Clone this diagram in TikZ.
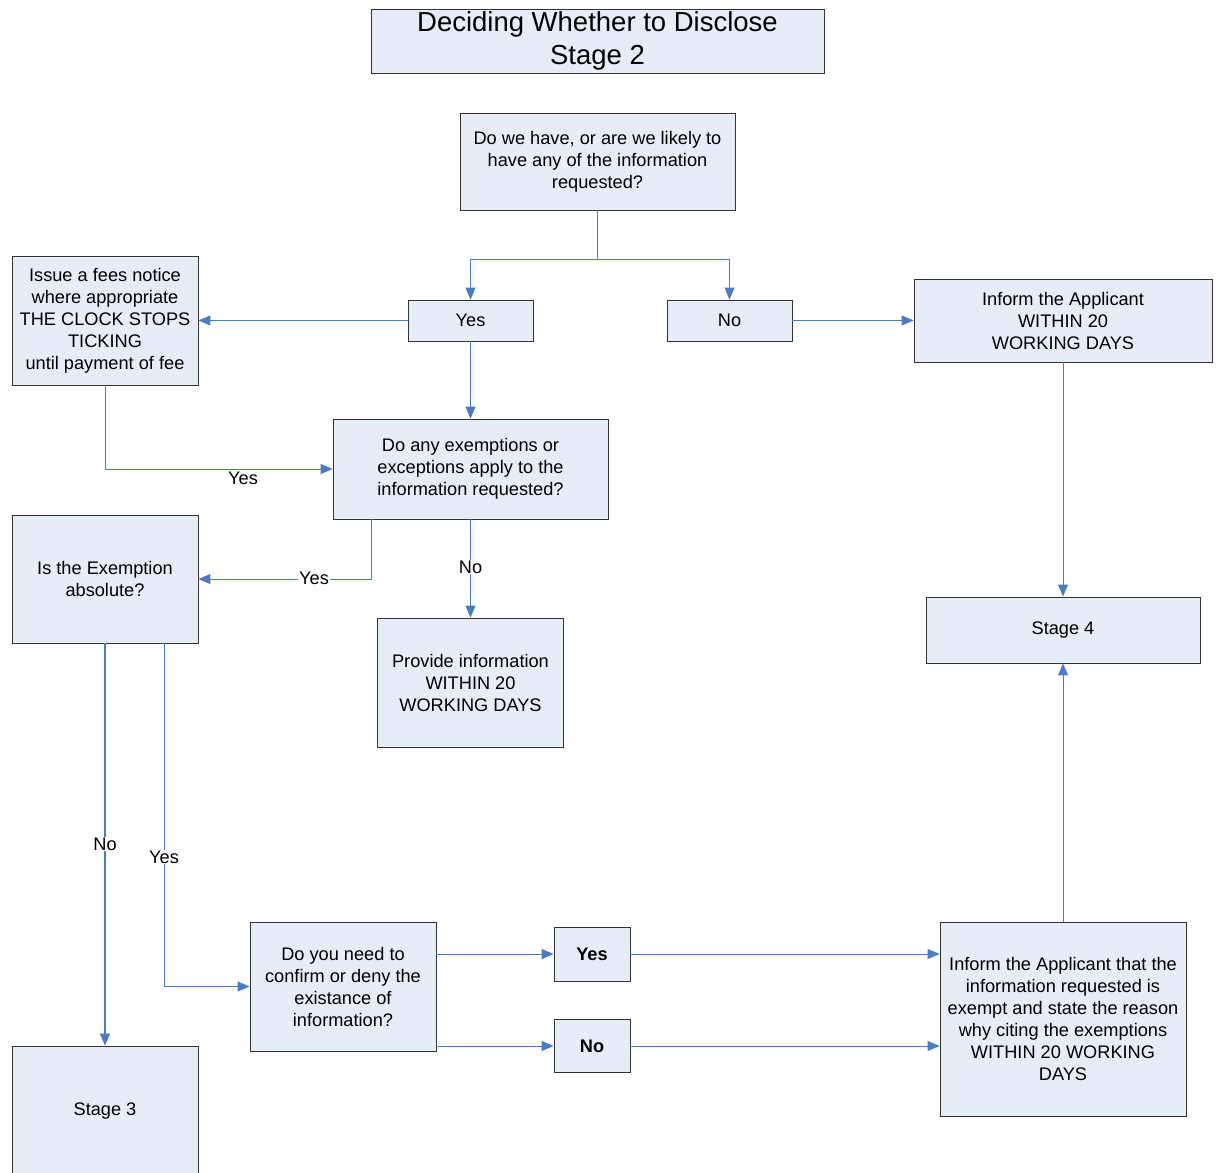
\documentclass[tikz,border=0pt]{standalone}
\usepackage{fontspec}
\setmainfont{Liberation Sans}
\usetikzlibrary{arrows.meta}
\definecolor{boxfill}{HTML}{E7EDF7}
\definecolor{linkblue}{HTML}{4A7BC4}
\definecolor{boxline}{HTML}{333333}
\tikzset{
  box/.style={draw=boxline, line width=0.9pt, fill=boxfill, inner sep=2pt, align=center,
    font=\fontsize{18.2}{22}\selectfont},
  link/.style={draw=linkblue, line width=1pt, -{Triangle[length=12pt,width=10pt]}},
  plain/.style={draw=linkblue, line width=1pt},
  lbl/.style={fill=white, inner sep=1pt, font=\fontsize{18.2}{20}\selectfont}
}
\begin{document}
\begin{tikzpicture}[x=1pt,y=-1pt]
\useasboundingbox (0,0) rectangle (1219,1173);
% nodes
\node[box, minimum width=453, minimum height=64, font=\fontsize{27.5}{33}\selectfont] (title) at (597.5,41) {Deciding Whether to Disclose\\Stage 2};
\node[box, minimum width=275, minimum height=97] (q1) at (597.5,161.5) {Do we have, or are we likely to\\have any of the information\\requested?};
\node[box, minimum width=125, minimum height=41] (yes1) at (470.5,320.5) {Yes};
\node[box, minimum width=125, minimum height=41] (no1) at (729.5,320.5) {No};
\node[box, minimum width=186, minimum height=129] (fees) at (105,320.5) {Issue a fees notice\\where appropriate\\THE CLOCK STOPS\\TICKING\\until payment of fee};
\node[box, minimum width=298, minimum height=83] (infa) at (1063,320.5) {Inform the Applicant\\WITHIN 20\\WORKING DAYS};
\node[box, minimum width=275, minimum height=100] (q2) at (470.5,469) {Do any exemptions or\\exceptions apply to the\\information requested?};
\node[box, minimum width=186, minimum height=128] (abs) at (105,579) {Is the Exemption\\absolute?};
\node[box, minimum width=186, minimum height=129] (prov) at (470.5,682.5) {Provide information\\WITHIN 20\\WORKING DAYS};
\node[box, minimum width=274, minimum height=66] (st4) at (1063,630) {Stage 4};
\node[box, minimum width=186, minimum height=129] (conf) at (343,986.5) {Do you need to\\confirm or deny the\\existance of\\information?};
\node[box, minimum width=76, minimum height=54, font=\fontsize{18.2}{22}\selectfont\bfseries] (yesb) at (592,954) {Yes};
\node[box, minimum width=76, minimum height=53, font=\fontsize{18.2}{22}\selectfont\bfseries] (nob) at (592,1046) {No};
\node[box, minimum width=246, minimum height=194] (infb) at (1063,1019) {Inform the Applicant that the\\information requested is\\exempt and state the reason\\why citing the exemptions\\WITHIN 20 WORKING\\DAYS};
\node[box, minimum width=186, minimum height=130] (st3) at (105,1111) {Stage 3};
% connectors
\coordinate (j1) at (597.5,259);
\draw[plain] (q1.south) -- (j1);
\draw[link] (j1) -| (yes1.north);
\draw[link] (j1) -| (no1.north);
\draw[link] (yes1.west) -- (fees.east);
\draw[link] (no1.east) -- (infa.west);
\draw[link] (yes1.south) -- (q2.north);
\draw[link] (fees.south) |- (q2.west);
\node[lbl] (lyes1) at (243,478) {Yes};
\coordinate (q2a) at (371,519);
\draw[link] (q2a) |- (abs.east);
\node[lbl] (lyes2) at (314,578) {Yes};
\draw[link] (q2.south) -- (prov.north);
\node[lbl] (lno1) at (470.5,567) {No};
\draw[link] (infa.south) -- (st4.north);
\draw[link] (infb.north) -- (st4.south);
\draw[link, line width=1.6pt] (abs.south) -- (st3.north);
\node[lbl] (lno2) at (105,844) {No};
\coordinate (absb) at (164,643);
\draw[link] (absb) |- (conf.west);
\node[lbl] (lyes3) at (164,857) {Yes};
\coordinate (cy) at (436,954);
\coordinate (cn) at (436,1046);
\draw[link] (cy) -- (yesb.west);
\draw[link] (cn) -- (nob.west);
\draw[link] (yesb.east) -- (infb.west |- yesb.east);
\draw[link] (nob.east) -- (infb.west |- nob.east);
\end{tikzpicture}
\end{document}
